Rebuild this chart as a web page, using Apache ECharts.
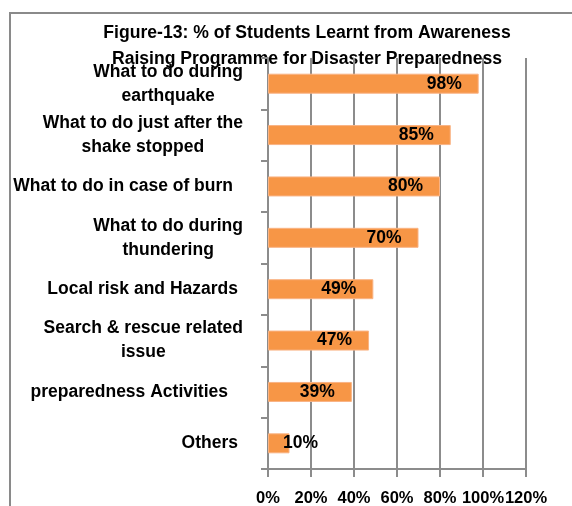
<!DOCTYPE html>
<html>
<head>
<meta charset="utf-8">
<script src="https://cdn.jsdelivr.net/npm/echarts@6/dist/echarts.min.js"></script>
<style>
html,body{margin:0;padding:0;background:#fff;}
#chart{width:572px;height:506px;}
</style>
</head>
<body>
<div id="chart"></div>
<script>
// ---- data ----
const titleLines = ['Figure-13: % of Students Learnt from Awareness', 'Raising Programme for Disaster Preparedness'];
const categories = [
  'What to do during\nearthquake',
  'What to do just after the\nshake stopped',
  'What to do in case of burn',
  'What to do during\nthundering',
  'Local risk and Hazards',
  'Search & rescue related\nissue',
  'preparedness Activities',
  'Others'
];
const values = [98, 85, 80, 70, 49, 47, 39, 10];
const xTicks = [0, 20, 40, 60, 80, 100, 120];

// ---- styles ----
const FONT = '"Liberation Sans", Arial, sans-serif';
const FS = 17.5;
const GRAY = '#8c8c8c';
const labelRightPad = [0, 0, 10, 0, 5, 0, 15, 5];

const chart = echarts.init(document.getElementById('chart'));
const rich = {};
labelRightPad.forEach((p, i) => {
  rich['c' + i] = {
    align: 'center', fontFamily: FONT, fontWeight: 'bold', fontSize: FS,
    color: '#000', lineHeight: 24, padding: [0, p, 0, 0]
  };
});

chart.setOption({
  animation: false,
  backgroundColor: '#fff',
  graphic: [
    { type: 'rect', z: -10, shape: { x: 10, y: 13, width: 800, height: 800 },
      style: { fill: 'none', stroke: '#8a8a8a', lineWidth: 2 } },
    { type: 'text', x: 307, y: 20,
      style: { text: titleLines.join('\n'), textAlign: 'center', fill: '#000',
        font: 'bold 17.6px ' + FONT, lineHeight: 26 } }
  ],
  grid: { left: 268, right: 46, top: 58, bottom: 37, outerBoundsMode: 'none', containLabel: false },
  xAxis: {
    type: 'value', min: xTicks[0], max: xTicks[xTicks.length - 1], interval: xTicks[1] - xTicks[0],
    axisLine: { show: true, lineStyle: { color: GRAY, width: 2 } },
    axisTick: { show: true, length: 8, lineStyle: { color: GRAY, width: 2 } },
    splitLine: { show: true, lineStyle: { color: GRAY, width: 2 } },
    axisLabel: { formatter: '{value}%', margin: 21, color: '#000', fontFamily: FONT,
      fontWeight: 'bold', fontSize: 16.5 }
  },
  yAxis: {
    type: 'category', inverse: true, data: categories,
    axisLine: { show: true, lineStyle: { color: GRAY, width: 2 } },
    axisTick: { show: true, length: 7, lineStyle: { color: GRAY, width: 2 } },
    axisLabel: {
      margin: 25, align: 'right', rich: rich,
      formatter: (v, i) => v.split('\n').map(l => '{c' + i + '|' + l + '}').join('\n')
    }
  },
  series: [{
    type: 'bar', barWidth: 20,
    data: values.map(v => ({
      value: v,
      label: v < 20 ? { position: 'right', distance: -6.5 } : undefined
    })),
    itemStyle: { color: '#F79646', borderColor: '#F9B384', borderWidth: 1 },
    label: { show: true, position: 'insideRight', distance: 17, formatter: '{c}%',
      color: '#000', fontFamily: FONT, fontWeight: 'bold', fontSize: FS }
  }]
});
</script>
</body>
</html>
